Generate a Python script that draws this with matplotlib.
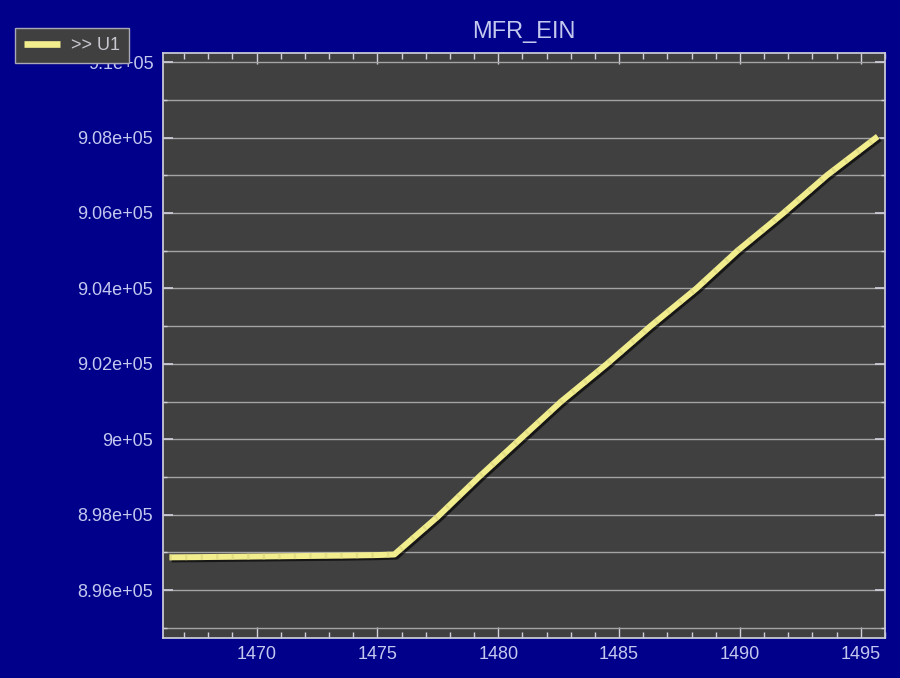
import matplotlib
matplotlib.use("Agg")
import matplotlib.pyplot as plt
import matplotlib.patheffects as pe
from matplotlib.ticker import MultipleLocator, FuncFormatter

# values
time_s = [1466.4, 1467.5, 1469.0, 1470.5, 1472.0, 1473.5, 1475.0, 1475.7,
          1477.5, 1479.2, 1480.9, 1482.6, 1484.5, 1486.3, 1488.2, 1489.9,
          1491.8, 1493.6, 1495.7]
mfr_u1 = [896870, 896875, 896885, 896895, 896905, 896915, 896930, 896945,
          897950, 899000, 900000, 901000, 902000, 903000, 904000, 905000,
          906000, 907000, 908030]

navy = "#00008a"
txt = "#c4c8ee"

plt.rcParams["font.family"] = ["Liberation Sans", "DejaVu Sans"]

fig = plt.figure(figsize=(9, 6.78), dpi=100, facecolor=navy)
ax = fig.add_axes([0.1811, 0.059, 0.8022, 0.8627])
ax.set_facecolor("#404040")

line, = ax.plot(time_s, mfr_u1, color="#f2ee8e", lw=4.3, solid_capstyle="butt",
                label=">> U1", zorder=3)
line.set_path_effects([pe.SimpleLineShadow(offset=(1.5, -1.5), shadow_color="black", alpha=0.65),
                       pe.Normal()])
# faint dotted texture seen on the reference trace
ax.plot(time_s, mfr_u1, color="#d9d47c", lw=4.3, dashes=(0.4, 2.2), zorder=4, alpha=0.6)

ax.set_xlim(1466.13, 1496.0)
ax.set_ylim(894731, 910240)

ax.xaxis.set_major_locator(MultipleLocator(5))
ax.xaxis.set_minor_locator(MultipleLocator(1))
ax.yaxis.set_major_locator(MultipleLocator(2000))
ax.yaxis.set_minor_locator(MultipleLocator(1000))


def sci(v, pos):
    return f"{v / 1e5:g}e+05"


ax.yaxis.set_major_formatter(FuncFormatter(sci))

ax.grid(True, axis="y", which="both", color="#a4a4a4", lw=1.0)
ax.set_axisbelow(True)

ax.tick_params(which="both", direction="in", top=True, right=True, colors="#d0d0dc",
               labelcolor=txt, labelsize=13)
ax.tick_params(axis="x", which="major", length=8, width=1)
ax.tick_params(axis="x", which="minor", length=4, width=1)
ax.tick_params(axis="y", which="major", length=7, width=1.2)
ax.tick_params(axis="y", which="minor", length=3, width=1)
ax.tick_params(axis="x", pad=6)
ax.tick_params(axis="y", pad=7)

for sp in ax.spines.values():
    sp.set_color("#c8c8d6")
    sp.set_linewidth(1.3)

ax.set_title("MFR_EIN", color=txt, fontsize=17, pad=11)

leg = fig.legend(handles=[line], loc="upper left", bbox_to_anchor=(15 / 900, 1 - 28 / 678),
                 frameon=True, fontsize=13, handlelength=2.0, borderpad=0.5,
                 handletextpad=0.6, borderaxespad=0)
leg.get_frame().set_facecolor("#404040")
leg.get_frame().set_edgecolor("#a8a8b8")
leg.get_frame().set_alpha(1)
leg.get_frame().set_boxstyle("square", pad=0)
for t in leg.get_texts():
    t.set_color("#c8c8d0")
leg.legend_handles[0].set_path_effects([])
leg.legend_handles[0].set_linewidth(4.8)

fig.savefig("out.png", dpi=100, facecolor=navy)
